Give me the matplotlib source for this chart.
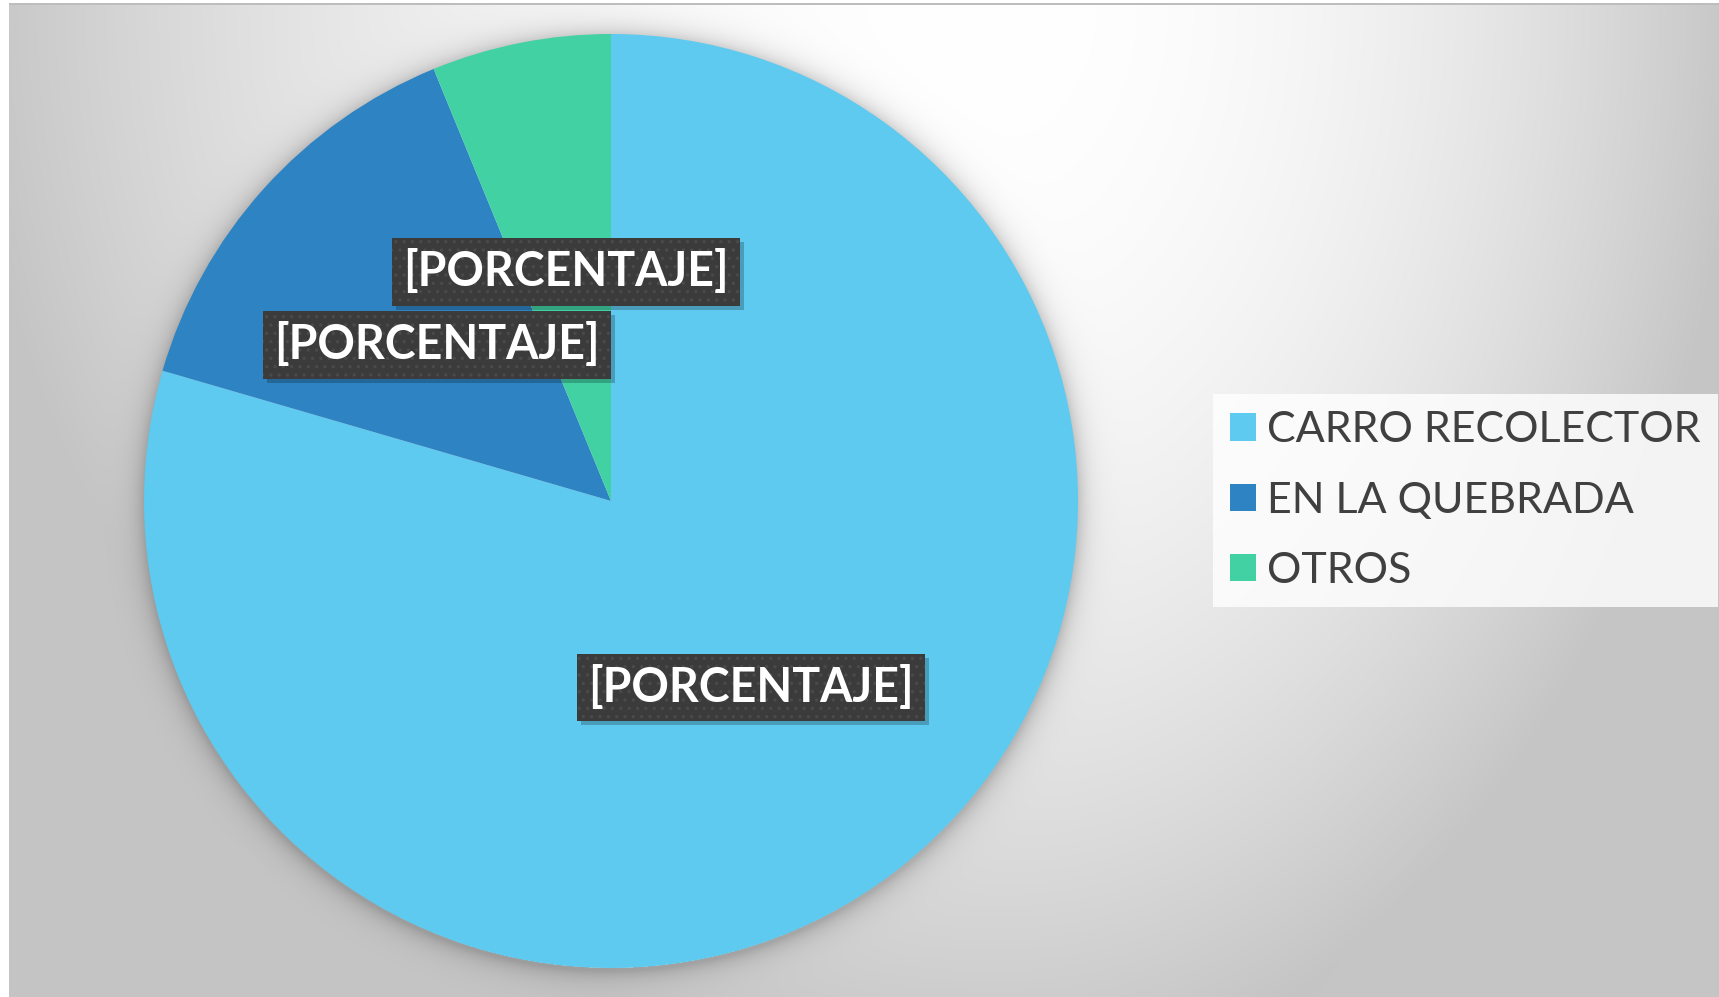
import numpy as np
import matplotlib
matplotlib.use("Agg")
import matplotlib.pyplot as plt
from matplotlib.patches import Rectangle

plt.rcParams["font.family"] = ["Lato", "DejaVu Sans"]
plt.rcParams["hatch.linewidth"] = 1.2

# data
categorias = ["CARRO RECOLECTOR", "EN LA QUEBRADA", "OTROS"]
valores = [79.5, 14.3, 6.2]
colores = ["#5ecaef", "#2e83c3", "#42d1a3"]
etiqueta = "[PORCENTAJE]"

W, H = 1719, 997
CX, CY, R = 611, 501, 467          # pie centre / radius in pixels (y from top)

fig = plt.figure(figsize=(W / 100, H / 100), dpi=100)
ax = fig.add_axes([0, 0, 1, 1])

# background: soft radial grey gradient + pie drop shadow
yy, xx = np.mgrid[0:H, 0:W] + 0.5
dx = (xx - 1000) / np.where(xx < 1000, 1000, 720)
dy = yy / 1050
val = 255 - np.minimum(55 * (dx**2 + dy**2), 58)
r = np.hypot(xx - CX, yy - (CY + 3))
sh = np.where(r > R - 3, 0.2 * np.exp(-np.clip(r - R, 0, None) / 11), 0)
val = val * (1 - sh)
val[:, :9] = 255
val[:4, :] = 255
val[4:6, 9:] = 189
img = np.dstack([val, val, val]) / 255
ax.imshow(img, extent=[0, W, 0, H], origin="upper", interpolation="nearest", zorder=0)

wedges, texts, autotexts = ax.pie(
    valores, colors=colores, startangle=90, counterclock=False,
    center=(CX, H - CY), radius=R, autopct=lambda p: etiqueta, pctdistance=0.5,
    wedgeprops=dict(linewidth=0), textprops=dict(color="white", fontsize=33.5,
                                                 fontweight="bold"))
for t in autotexts:
    t.set_zorder(6)
    t.set_bbox(dict(boxstyle="square,pad=0.24", fc="#3b3b3b", ec="#4a4a4a",
                    lw=0, hatch=".."))

ax.set_xlim(0, W)
ax.set_ylim(0, H)
ax.axis("off")

# drop shadow behind each data label box (axes data units == pixels here)
fig.canvas.draw()
for t in autotexts:
    bb = t.get_bbox_patch().get_window_extent()
    ax.add_patch(Rectangle((bb.x0 + 4, bb.y0 - 4), bb.width, bb.height,
                           fc="black", ec="none", alpha=0.22, zorder=5))

leg = ax.legend(wedges, categorias, loc="upper left",
                bbox_to_anchor=(1213 / W, 1 - 394 / H), borderaxespad=0,
                fontsize=31, labelcolor="#404040", frameon=True, fancybox=False,
                handlelength=0.6, handleheight=0.6, handletextpad=0.25,
                labelspacing=0.75, borderpad=0.4)
leg.get_frame().set_facecolor((1, 1, 1, 0.2))
leg.get_frame().set_edgecolor("none")

fig.savefig("out.png", dpi=100)
